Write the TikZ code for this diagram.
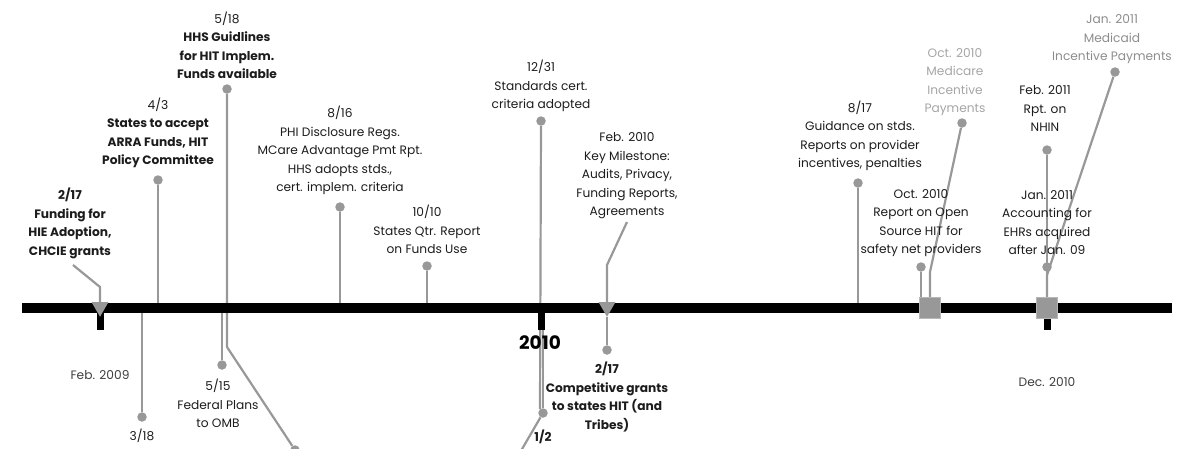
\documentclass[tikz,border=0pt]{standalone}
\usepackage{fontspec}
\setmainfont{Poppins}
\usepackage{xcolor}
\usetikzlibrary{positioning,shapes.geometric,backgrounds}
\definecolor{linegray}{RGB}{152,152,152}
\definecolor{textdark}{RGB}{28,28,28}
\definecolor{textgray}{RGB}{62,62,62}
\definecolor{textlight}{RGB}{165,165,165}
\definecolor{textmid}{RGB}{140,140,140}

\begin{document}
\begin{tikzpicture}[
        x=1pt, y=-1pt,
        node distance=6pt,
        lbl/.style={align=center, inner sep=1pt, text=textdark, font={\fontsize{12.2}{18.5}\selectfont}},
        era/.style={inner sep=1pt, text=textgray, font={\fontsize{12.2}{14}\selectfont}},
        dot/.style={circle, fill=linegray, minimum size=9.5pt, inner sep=0pt},
        tri/.style={regular polygon, regular polygon sides=3, shape border rotate=180, fill=linegray, minimum size=19.5pt, inner sep=0pt},
        sq/.style={rectangle, fill=linegray, draw=linegray!70, line width=0.8pt, minimum size=21pt, inner sep=0pt},
        con/.style={linegray, line width=2.2pt},
        bar/.style={line width=10pt},
        tick/.style={line width=7pt}
    ]
    \useasboundingbox (0,0) rectangle (1186,448);
    \clip (0,0) rectangle (1186,448);

    % timeline
    \coordinate (bl) at (22,308);
    \coordinate (br) at (1172,308);
    \coordinate (btop) at (0,303);
    \coordinate (bbot) at (0,313);
    \coordinate (t09) at (100,308);
    \coordinate (t10) at (541,308);
    \coordinate (t11) at (1047,308);

    % markers on the bar
    \node[tri] (hie) at (100,307) {};
    \node[tri] (milestone) at (607,307) {};
    \node[sq] (sqoct) at (930,308) {};
    \node[sq] (sqjan) at (1047,308) {};

    % events above
    \coordinate (hiebend) at (100,287);
    \coordinate (hieend) at (73,265);
    \node[lbl, above=5pt of hieend, xshift=-3pt] (hielbl) {\textbf{2/17}\\\textbf{Funding for}\\\textbf{HIE Adoption,}\\\textbf{CHCIE grants}};

    \node[dot] (arra) at (158,180) {};
    \node[lbl, above=of arra] (arralbl) {4/3\\\textbf{States to accept}\\\textbf{ARRA Funds, HIT}\\\textbf{Policy Committee}};

    \node[dot] (guide) at (227,89) {};
    \node[lbl, above=of guide, yshift=-2pt] (guidelbl) {5/18\\\textbf{HHS Guidlines}\\\textbf{for HIT Implem.}\\\textbf{Funds available}};

    \node[dot] (phi) at (340,207) {};
    \node[lbl, above=of phi] (philbl) {8/16\\PHI Disclosure Regs.\\MCare Advantage Pmt Rpt.\\HHS adopts stds.,\\cert. implem. criteria};

    \node[dot] (qtr) at (427,266) {};
    \node[lbl, above=of qtr] (qtrlbl) {10/10\\States Qtr. Report\\on Funds Use};

    \node[dot] (stds) at (541,121) {};
    \node[lbl, above=3pt of stds] (stdslbl) {12/31\\Standards cert.\\criteria adopted};

    \coordinate (msbend) at (607,265);
    \coordinate (msend) at (627,222);
    \node[lbl, above=2pt of msend] (mslbl) {Feb. 2010\\Key Milestone:\\Audits, Privacy,\\Funding Reports,\\Agreements};

    \node[dot] (guidance) at (858,183) {};
    \node[lbl, above=of guidance, xshift=2pt] (guidancelbl) {8/17\\Guidance on stds.\\Reports on provider\\incentives, penalties};

    \node[dot] (opensrc) at (921,267) {};
    \node[lbl, above=4pt of opensrc] (opensrclbl) {Oct. 2010\\Report on Open\\Source HIT for\\safety net providers};

    \node[dot] (medicare) at (962,123) {};
    \node[lbl, text=textlight, above=1pt of medicare, xshift=-7pt] (medicarelbl) {Oct. 2010\\Medicare\\Incentive\\Payments};
    \coordinate (mcbend) at (930,272);

    \node[dot] (nhin) at (1047,150) {};
    \node[lbl, above=12pt of nhin, xshift=-2pt] (nhinlbl) {Feb. 2011\\Rpt. on\\NHIN};

    \node[dot] (ehr) at (1047,267) {};
    \node[lbl, above=of ehr] (ehrlbl) {Jan. 2011\\Accounting for\\EHRs acquired\\after Jan. 09};

    \node[dot] (medicaid) at (1115,72) {};
    \node[lbl, text=textmid, above=2pt of medicaid, xshift=-3pt] (medicaidlbl) {Jan. 2011\\Medicaid\\Incentive Payments};
    \coordinate (mdbend) at (1047,275);

    % events below
    \node[dot] (m318) at (142,417) {};
    \node[lbl, below=6pt of m318] (m318lbl) {3/18};

    \node[dot] (omb) at (222,365) {};
    \node[lbl, below=8pt of omb, xshift=-4pt] (omblbl) {5/15\\Federal Plans\\to OMB};

    \coordinate (guidebend) at (227,347);
    \node[dot] (offpage) at (295,450) {};

    \node[dot] (compet) at (607,350) {};
    \node[lbl, below=6pt of compet] (competlbl) {\textbf{2/17}\\\textbf{Competitive grants}\\\textbf{to states HIT (and}\\\textbf{Tribes)}};

    \node[dot] (half) at (543,413) {};
    \node[lbl, below=11pt of half] (halflbl) {\textbf{1/2}};
    \coordinate (halfout) at (518,456);

    % years
    \node[text=black, font={\fontsize{18.5}{20}\selectfont\bfseries}] (yr10) at (540,343) {2010};
    \node[era] (feb09) at (100,375) {Feb. 2009};
    \node[era] (dec10) at (1047,382) {Dec. 2010};

    \begin{scope}[on background layer]
    \draw[con] (hie.side 2) -- (hiebend) -- (hieend);
    \draw[con] (arra) -- (arra |- btop);
    \draw[con] (guide) -- (guidebend) -- (offpage);
    \draw[con] (phi) -- (phi |- btop);
    \draw[con] (qtr) -- (qtr |- btop);
    \draw[con] (stds) -- (540,409);
    \draw[con] (milestone.side 2) -- (msbend) -- (msend);
    \draw[con] (milestone.corner 1) -- (compet);
    \draw[con] (guidance) -- (guidance |- btop);
    \draw[con] (opensrc) -- (opensrc |- sqoct.north);
    \draw[con] (medicare) -- (mcbend) -- (mcbend |- sqoct.north);
    \draw[con] (nhin) -- (nhin |- sqjan.north);
    \draw[con] (ehr) -- (ehr |- sqjan.north);
    \draw[con] (medicaid) -- (mdbend) -- (mdbend |- sqjan.north);
    \draw[con] (m318) -- (m318 |- bbot);
    \draw[con] (omb) -- (omb |- bbot);
    \draw[con] (half) -- (half |- bbot);
    \draw[con] (half) -- (halfout);
    \draw[bar] (bl) -- (br);
    \draw[tick] (t09) -- ++(0,22);
    \draw[tick] (t10) -- ++(0,22);
    \draw[tick] (t11) -- ++(0,22);
    \end{scope}
\end{tikzpicture}
\end{document}
